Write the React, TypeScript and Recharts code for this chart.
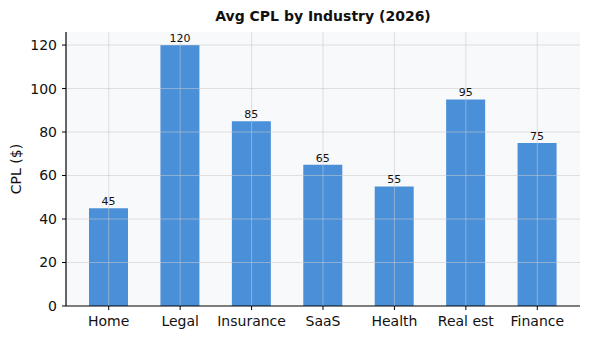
import React from "react";
import {
  BarChart,
  Bar,
  XAxis,
  YAxis,
  CartesianGrid,
  ReferenceLine,
  LabelList,
} from "recharts";

const industries = ["Home", "Legal", "Insurance", "SaaS", "Health", "Real est", "Finance"];
const cpl = [45, 120, 85, 65, 55, 95, 75];
const yTicks = [0, 20, 40, 60, 80, 100, 120];

const data = industries.map((name, i) => ({ name, cpl: cpl[i] }));

const font = "'DejaVu Sans', sans-serif";
const gridStroke = "#c8c8cc";

export default function App() {
  return (
    <div style={{ position: "fixed", top: 0, left: 0, width: 590, height: 340, background: "white" }}>
      <div
        style={{
          position: "absolute",
          top: 8,
          left: 66,
          width: 514,
          textAlign: "center",
          fontFamily: font,
          fontWeight: "bold",
          fontSize: 14,
          color: "#111",
        }}
      >
        Avg CPL by Industry (2026)
      </div>
      <BarChart
        width={590}
        height={340}
        data={data}
        margin={{ top: 32, right: 10, left: 0, bottom: 0 }}
        style={{ fontFamily: font }}
      >
        <CartesianGrid horizontal={false} vertical={false} fill="#f8f9fb" />
        <XAxis
          dataKey="name"
          height={34}
          padding={{ left: 7, right: 7 }}
          tickSize={4}
          tickMargin={6}
          tick={{ fontSize: 14, fill: "#111" }}
          axisLine={{ stroke: "#000", strokeWidth: 1.2 }}
          tickLine={{ stroke: "#000" }}
        />
        <YAxis
          width={66}
          domain={[0, 126]}
          ticks={yTicks}
          tickSize={4}
          tickMargin={5}
          tick={{ fontSize: 14, fill: "#111" }}
          axisLine={{ stroke: "#000", strokeWidth: 1.2 }}
          tickLine={{ stroke: "#000" }}
          label={{
            value: "CPL ($)",
            angle: -90,
            position: "insideLeft",
            offset: 16,
            style: { textAnchor: "middle", fontSize: 14, fill: "#111" },
          }}
        />
        <Bar dataKey="cpl" fill="#4a90d9" barSize={39} isAnimationActive={false}>
          <LabelList dataKey="cpl" position="top" offset={3} style={{ fontSize: 11, fill: "#111" }} />
        </Bar>
        {yTicks.slice(1).map((t) => (
          <ReferenceLine key={"h" + t} y={t} stroke={gridStroke} strokeOpacity={0.55} strokeWidth={1} />
        ))}
        {industries.map((c) => (
          <ReferenceLine key={"v" + c} x={c} stroke={gridStroke} strokeOpacity={0.55} strokeWidth={1} />
        ))}
      </BarChart>
    </div>
  );
}
